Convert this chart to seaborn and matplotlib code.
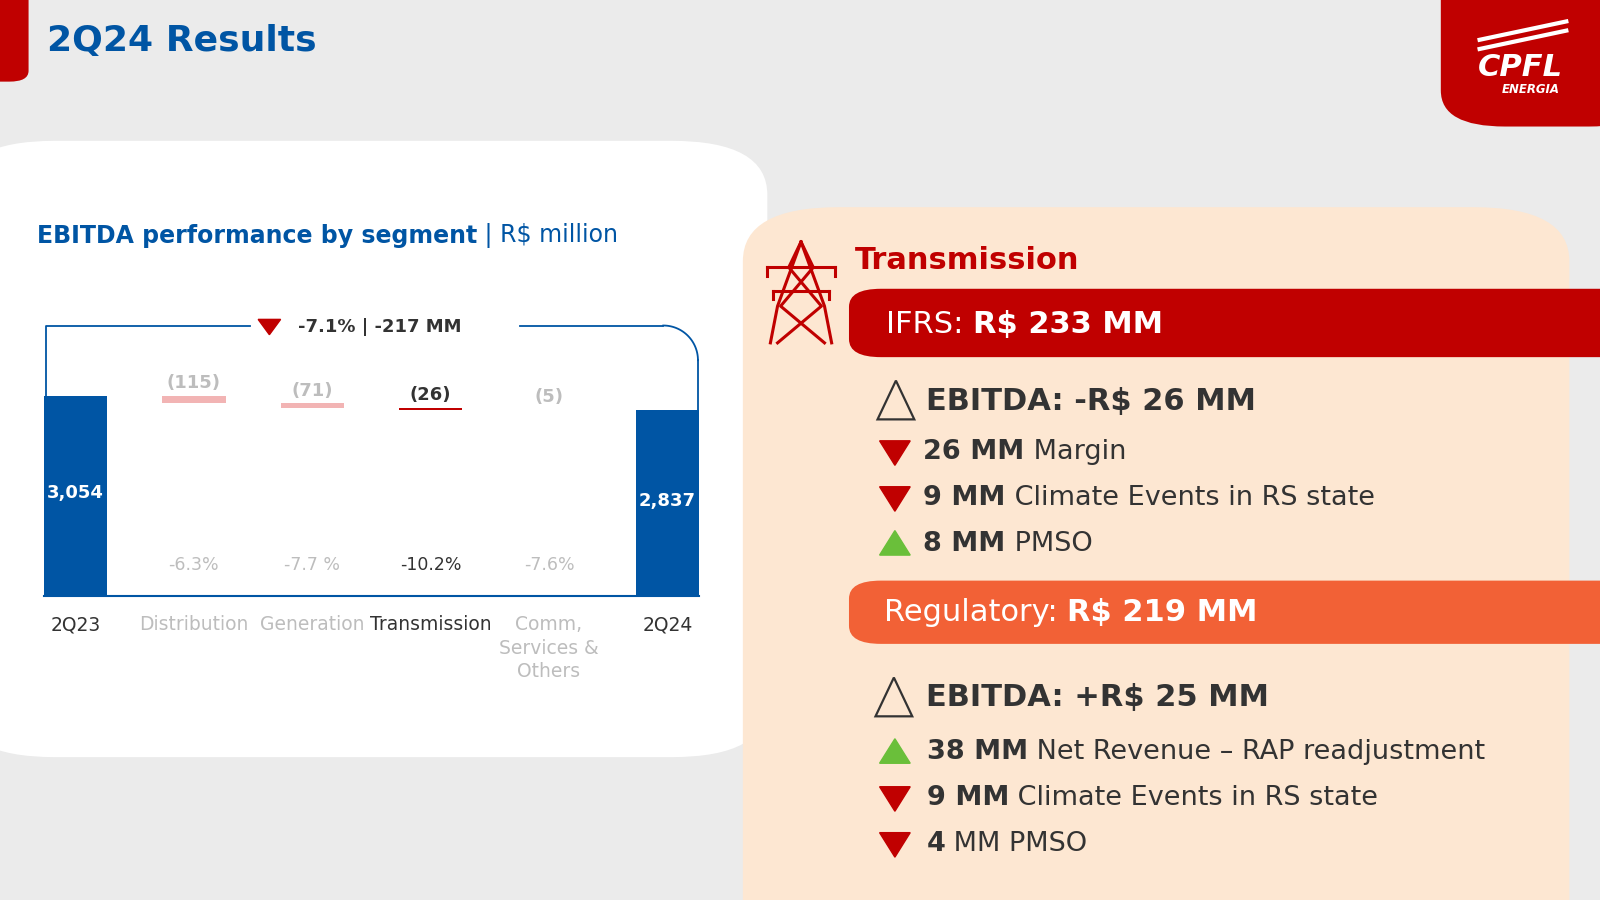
import matplotlib.pyplot as plt
import seaborn as sns
import pandas as pd
import numpy as np
from matplotlib.patches import FancyBboxPatch, Polygon

categories = ["2Q23", "Distribution", "Generation", "Transmission", "Comm,\nServices &\nOthers", "2Q24"]
start_value = 3054
deltas = [-115, -71, -26, -5]
end_value = 2837
delta_labels = ["(115)", "(71)", "(26)", "(5)"]
pct_labels = ["-6.3%", "-7.7 %", "-10.2%", "-7.6%"]
total_change = "-7.1% | -217 MM"

W, H = 1568, 882
BLUE = "#0055a4"
RED = "#c00000"
DARK = "#333333"
GRAY = "#bdbdbd"
PINK = "#f2b4b4"

def fx(px):
    return px / W

def fy(py):
    return 1 - py / H

fig = plt.figure(figsize=(16, 9), dpi=100)
fig.patch.set_facecolor("#ebebeb")

def rbox(x0, y0, x1, y1, color, r=0.0, z=0):
    p = FancyBboxPatch((fx(x0), fy(y1)), fx(x1 - x0), (y1 - y0) / H,
                       boxstyle=f"round,pad=0,rounding_size={r}",
                       transform=fig.transFigure, facecolor=color, edgecolor="none", zorder=z)
    fig.patches.append(p)

# panels
rbox(-40, -40, 28, 80, RED, 0.012)
rbox(1412, -60, 1620, 124, RED, 0.04)
rbox(-40, 138, 752, 742, "white", 0.06)
rbox(728, 203, 1538, 940, "#fde7d2", 0.06, z=1)
rbox(832, 283, 1620, 350, RED, 0.02, z=2)
rbox(832, 569, 1620, 631, "#f26136", 0.02, z=2)

fig.text(fx(46), fy(40), "2Q24 Results", color=BLUE, fontsize=26, fontweight="bold", va="center")
fig.text(fx(1490), fy(66), "CPFL", color="white", fontsize=22, fontweight="bold", style="italic", ha="center", va="center")
fig.text(fx(1500), fy(88), "ENERGIA", color="white", fontsize=8.5, fontweight="bold", style="italic", ha="center", va="center")
for dy in (0, 9):
    fig.lines.append(plt.Line2D([fx(1450), fx(1535)], [fy(48 - dy), fy(30 - dy)], transform=fig.transFigure,
                                color="white", lw=3))

renderer = fig.canvas.get_renderer()

def runs(x, y, parts, size, color_default=DARK, z=5):
    # parts: list of (text, bold, color)
    cur = fx(x)
    for txt, bold, col in parts:
        t = fig.text(cur, fy(y), txt, fontsize=size, fontweight="bold" if bold else "normal",
                     color=col or color_default, va="center", zorder=z)
        bb = t.get_window_extent(renderer)
        cur += bb.width / fig.bbox.width

runs(36, 231, [("EBITDA performance by segment", True, BLUE), (" | R$ million", False, BLUE)], 17)

# waterfall chart
ax = fig.add_axes([fx(43), fy(584), fx(685 - 43), (584 - 300) / H])
ax.set_zorder(4)
ax.set_facecolor("none")
n = len(categories)
totals = [start_value] + [0] * len(deltas) + [end_value]
df = pd.DataFrame({"cat": categories, "val": totals})
sns.barplot(data=df, x="cat", y="val", hue="cat", palette=[BLUE] * n, legend=False,
            width=0.535, ax=ax, saturation=1)
level = start_value
bar_cols = [PINK, PINK, RED, PINK]
txt_cols = [GRAY, GRAY, DARK, GRAY]
for i, d in enumerate(deltas):
    top = level
    level += d
    ax.bar(i + 1, -d, bottom=level, width=0.535, color=bar_cols[i], zorder=3)
    ax.text(i + 1, top + 60, delta_labels[i], ha="center", va="bottom", fontsize=13,
            fontweight="bold", color=txt_cols[i])
    ax.text(i + 1, 470, pct_labels[i], ha="center", va="center", fontsize=12.5, color=txt_cols[i])
ax.text(0, start_value / 2 + 50, f"{start_value:,}", ha="center", va="center", color="white", fontsize=13, fontweight="bold")
ax.text(5, end_value / 2 + 30, f"{end_value:,}", ha="center", va="center", color="white", fontsize=13, fontweight="bold")
ax.set_xlim(-0.267, 5.267)
ax.set_ylim(0, 284 * 3054 / 196)
for s in ["top", "right", "left"]:
    ax.spines[s].set_visible(False)
ax.spines["bottom"].set_color(BLUE)
ax.spines["bottom"].set_linewidth(1.5)
ax.set_yticks([])
ax.set_xlabel("")
ax.set_ylabel("")
ax.tick_params(axis="x", length=0, pad=14)
ax.set_xticks(range(n))
ax.set_xticklabels(categories, fontsize=13.5, va="top", linespacing=1.3)
for lab, c in zip(ax.get_xticklabels(), [DARK, GRAY, GRAY, DARK, GRAY, DARK]):
    lab.set_color(c)

# bracket line
lk = dict(transform=fig.transFigure, color=BLUE, lw=1.3)
fig.lines.append(plt.Line2D([fx(45), fx(45), fx(245)], [fy(388), fy(319), fy(319)], **lk))
fig.lines.append(plt.Line2D([fx(510), fx(650)], [fy(319), fy(319)], **lk))
th = np.linspace(np.pi / 2, 0, 30)
fig.lines.append(plt.Line2D(fx(650 + 34 * np.cos(th)), fy(353 - 34 * np.sin(th)), **lk))
fig.lines.append(plt.Line2D([fx(684), fx(684)], [fy(353), fy(402)], **lk))
fig.patches.append(Polygon([(fx(253), fy(313)), (fx(275), fy(313)), (fx(264), fy(328))],
                           transform=fig.transFigure, color=RED))
runs(292, 320, [(total_change, True, DARK)], 13)

# right panel
# tower icon
tw = [[(785, 237), (762, 300), (755, 336)], [(785, 237), (808, 300), (815, 336)],
      [(752, 262), (818, 262)], [(752, 262), (752, 270)], [(818, 262), (818, 270)],
      [(758, 285), (812, 285)], [(758, 285), (758, 293)], [(812, 285), (812, 293)],
      [(773, 262), (805, 300), (762, 336)], [(797, 262), (765, 300), (808, 336)],
      [(773, 262), (785, 237), (797, 262)]]
for seg in tw:
    xs, ys = zip(*seg)
    fig.lines.append(plt.Line2D(fx(np.array(xs)), fy(np.array(ys)), transform=fig.transFigure,
                                color=RED, lw=2.2, zorder=5))

fig.text(fx(838), fy(255), "Transmission", color=RED, fontsize=22, fontweight="bold", va="center", zorder=5)
runs(868, 318, [("IFRS: ", False, "white"), ("R$ 233 MM", True, "white")], 22)
runs(866, 600, [("Regulatory: ", False, "white"), ("R$ 219 MM", True, "white")], 22)

def delta_sym(x, y):
    fig.patches.append(Polygon([(fx(x), fy(y + 18)), (fx(x + 36), fy(y + 18)), (fx(x + 18), fy(y - 20))],
                               transform=fig.transFigure, facecolor="none", edgecolor=DARK, lw=1.6, zorder=5))

def tri(x, y, up):
    col = "#6abf3a" if up else RED
    if up:
        pts = [(x, y + 11), (x + 30, y + 11), (x + 15, y - 13)]
    else:
        pts = [(x, y - 11), (x + 30, y - 11), (x + 15, y + 13)]
    fig.patches.append(Polygon([(fx(a), fy(b)) for a, b in pts], transform=fig.transFigure, color=col, zorder=5))

delta_sym(860, 393)
runs(907, 393, [("EBITDA: -R$ 26 MM", True, DARK)], 22)
ifrs_items = [(False, "26 MM", " Margin"), (False, "9 MM", " Climate Events in RS state"), (True, "8 MM", " PMSO")]
for k, (up, b, r) in enumerate(ifrs_items):
    y = 443 + 45 * k
    tri(862, y, up)
    runs(905, y, [(b, True, DARK), (r, False, DARK)], 19.5)

delta_sym(858, 684)
runs(907, 684, [("EBITDA: +R$ 25 MM", True, DARK)], 22)
reg_items = [(True, "38 MM", " Net Revenue \u2013 RAP readjustment"), (False, "9 MM", " Climate Events in RS state"),
             (False, "4", " MM PMSO")]
for k, (up, b, r) in enumerate(reg_items):
    y = 737 + 45 * k
    tri(862, y, up)
    runs(908, y, [(b, True, DARK), (r, False, DARK)], 19.5)

fig.savefig("out.png", dpi=100)
